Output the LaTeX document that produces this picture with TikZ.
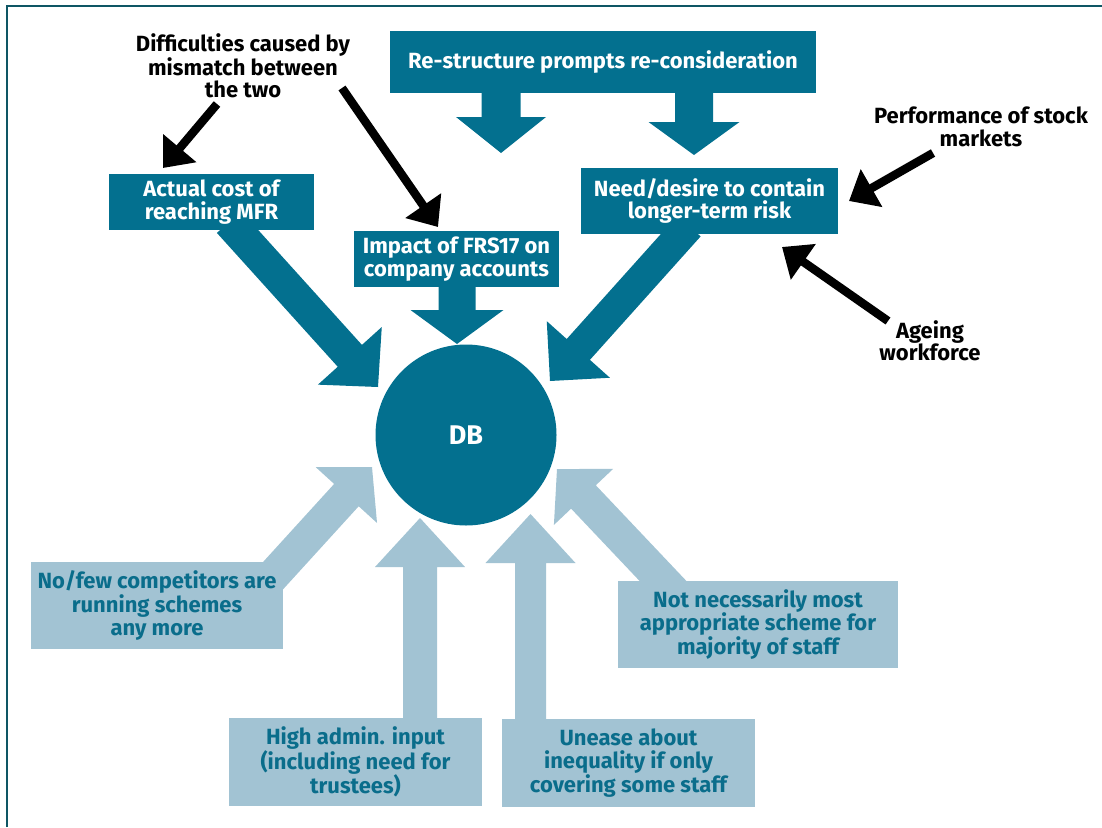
\documentclass[tikz,border=0pt]{standalone}
\usepackage{fontspec}
\setmainfont{Fira Sans}
\usetikzlibrary{calc,positioning,arrows.meta}
\pgfdeclarelayer{background}
\pgfsetlayers{background,main}

\definecolor{dbteal}{HTML}{03708F}
\definecolor{dblight}{HTML}{A2C3D3}
\definecolor{dbtext}{HTML}{0A6D8B}
\definecolor{dbframe}{HTML}{0E5664}

% block arrow: style, start, tip, half shaft, half head, head length
\newcommand{\fatarrow}[6]{%
  \coordinate (fa-s) at #2;
  \coordinate (fa-t) at #3;
  \coordinate (fa-b) at ($(fa-t)!#6!(fa-s)$);
  \fill[#1] ($(fa-s)!#4!90:(fa-t)$) -- ($(fa-b)!#4!90:(fa-t)$) -- ($(fa-b)!#5!90:(fa-t)$)
    -- (fa-t) -- ($(fa-b)!#5!-90:(fa-t)$) -- ($(fa-b)!#4!-90:(fa-t)$) -- ($(fa-s)!#4!-90:(fa-t)$) -- cycle;
}

\tikzset{
  darkbox/.style={fill=dbteal, text=white, inner sep=0pt, align=center,
    font=\bfseries\fontsize{22}{22.5}\selectfont},
  lightbox/.style={fill=dblight, text=dbtext, inner sep=0pt, align=center,
    font=\bfseries\fontsize{22}{22.5}\selectfont},
  blacklabel/.style={text=black, inner sep=0pt, align=center,
    font=\bfseries\fontsize{22}{22.5}\selectfont},
  blackarrow/.style={line width=8.5pt, -{Triangle[length=26pt,width=42pt]}},
}

\begin{document}
\begin{tikzpicture}[x=1pt, y=-1pt]
  \useasboundingbox (0,0) rectangle (1102,827);
  \draw[dbframe, line width=2pt] (7,827) -- (7,6) -- (1102,6);

  % boxes
  \node[darkbox, minimum width=426pt, minimum height=62pt] (restr) at (603,62) {Re-structure prompts re-consideration};
  \node[darkbox, minimum width=205pt, minimum height=56pt] (cost) at (211.5,202) {Actual cost of\\reaching MFR};
  \node[darkbox, minimum width=205pt, minimum height=56pt] (impact) at (456.5,259) {Impact of FRS17 on\\company accounts};
  \node[darkbox, minimum width=257pt, minimum height=66pt] (need) at (709.5,201) {Need/desire to contain\\longer-term risk};
  \node[darkbox, circle, minimum size=181pt, font=\bfseries\fontsize{27}{27}\selectfont] (db) at (466,435) {DB};

  \node[lightbox, minimum width=252pt, minimum height=87pt] (nofew) at (157,605.5) {No/few competitors are\\running schemes\\any more};
  \node[lightbox, minimum width=253pt, minimum height=88pt] (admin) at (355.5,762) {High admin. input\\(including need for\\trustees)};
  \node[lightbox, minimum width=253pt, minimum height=88pt] (unease) at (628.5,763) {Unease about\\inequality if only\\covering some staff};
  \node[lightbox, minimum width=280pt, minimum height=87pt] (notnec) at (758,624.5) {Not necessarily most\\appropriate scheme for\\majority of staff};

  % black labels
  \node[blacklabel] (diff) at (243,66) {Difficulties caused by\\mismatch between\\the two};
  \node[blacklabel] (perf) at (981,127) {Performance of stock\\markets};
  \node[blacklabel] (ageing) at (930,341) {Ageing\\workforce};

  % arrow ends
  \coordinate (restr-tipl) at (501,153);
  \coordinate (restr-tipr) at (694,155);
  \coordinate (impact-tip) at (457,344);
  \coordinate (cost-out) at (229,222);
  \coordinate (cost-tip) at (378,387);
  \coordinate (need-out) at (689,226);
  \coordinate (need-tip) at (550,381);
  \coordinate (nofew-out) at (260,590);
  \coordinate (nofew-tip) at (372,467);
  \coordinate (admin-tip) at (420,518);
  \coordinate (unease-tip) at (530.5,514);
  \coordinate (notnec-out) at (681,600);
  \coordinate (notnec-tip) at (557,469);

  \coordinate (diff-outa) at (217,104);
  \coordinate (diff-tipa) at (163,168);
  \coordinate (diff-outb) at (342,88);
  \coordinate (diff-tipb) at (438,227);
  \coordinate (perf-out) at (933,153);
  \coordinate (perf-tip) at (849,201);
  \coordinate (ageing-out) at (888,321);
  \coordinate (ageing-tip) at (782,247);

  \begin{pgfonlayer}{background}
    \fatarrow{dbteal}{(restr.south -| restr-tipl)}{(restr-tipl)}{19.5pt}{45pt}{36pt}
    \fatarrow{dbteal}{(restr.south -| restr-tipr)}{(restr-tipr)}{19pt}{45.5pt}{33pt}
    \fatarrow{dbteal}{(impact.south -| impact-tip)}{(impact-tip)}{18.5pt}{46.5pt}{34pt}
    \fatarrow{dbteal}{(cost-out)}{(cost-tip)}{16.3pt}{43pt}{42pt}
    \fatarrow{dbteal}{(need-out)}{(need-tip)}{15.6pt}{42.4pt}{42.4pt}

    \fatarrow{dblight}{(nofew-out)}{(nofew-tip)}{16.6pt}{41.4pt}{38pt}
    \fatarrow{dblight}{(admin.north -| admin-tip)}{(admin-tip)}{17pt}{45pt}{49pt}
    \fatarrow{dblight}{(unease.north -| unease-tip)}{(unease-tip)}{15.5pt}{45pt}{49pt}
    \fatarrow{dblight}{(notnec-out)}{(notnec-tip)}{17pt}{40.7pt}{38.5pt}
  \end{pgfonlayer}

  \draw[blackarrow] (diff-outa) -- (diff-tipa);
  \draw[blackarrow] (diff-outb) -- (diff-tipb);
  \draw[blackarrow] (perf-out) -- (perf-tip);
  \draw[blackarrow] (ageing-out) -- (ageing-tip);
\end{tikzpicture}
\end{document}
